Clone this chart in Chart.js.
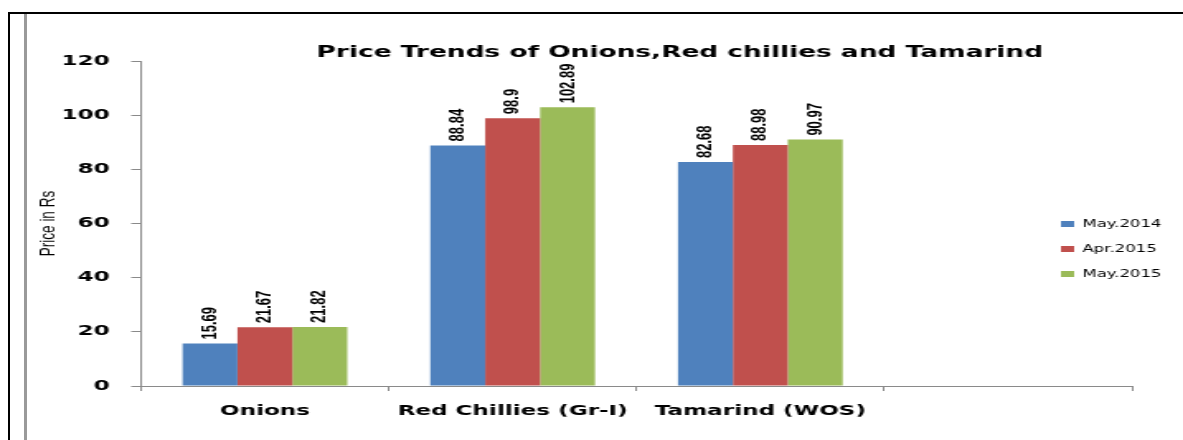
<!DOCTYPE html>
<html>
<head>
<meta charset="utf-8">
<script src="https://cdn.jsdelivr.net/npm/chart.js@4.4.0/dist/chart.umd.min.js"></script>
<style>
html,body{margin:0;padding:0;background:#fff;overflow:hidden;width:1183px;height:440px;}
#frameTop{position:absolute;left:8px;top:12px;width:1175px;height:2px;background:#000;}
#frameLeft{position:absolute;left:8px;top:12px;width:2px;height:428px;background:#000;}
#frameGray{position:absolute;left:24px;top:14px;width:3px;height:426px;background:#9a9a9a;}
#wrap{position:absolute;left:0;top:0;width:717px;height:440px;transform:scaleX(1.65);transform-origin:0 0;}
</style>
</head>
<body>
<div id="frameTop"></div>
<div id="frameLeft"></div>
<div id="frameGray"></div>
<div id="wrap"><canvas id="c" width="717" height="440"></canvas></div>
<script>
// ---- data ----
const categories = ['Onions', 'Red Chillies (Gr-I)', 'Tamarind (WOS)', ''];
const seriesNames = ['May.2014', 'Apr.2015', 'May.2015'];
const may2014 = [15.69, 88.84, 82.68, null];
const apr2015 = [21.67, 98.9, 88.98, null];
const may2015 = [21.82, 102.89, 90.97, null];
const seriesColors = ['#4F81BD', '#C0504D', '#9BBB59'];
const yMin = 0, yMax = 120, yStep = 20;
const chartTitle = 'Price Trends of Onions,Red chillies and Tamarind';
const yTitle = 'Price in Rs';

const axisGray = '#8a8a8a';

const valueLabels = {
  id: 'valueLabels',
  afterDatasetsDraw(chart) {
    const ctx = chart.ctx;
    ctx.save();
    ctx.font = 'bold 13px "Liberation Sans", Arial, sans-serif';
    ctx.fillStyle = '#000';
    ctx.textAlign = 'left';
    ctx.textBaseline = 'middle';
    chart.data.datasets.forEach((ds, i) => {
      const meta = chart.getDatasetMeta(i);
      meta.data.forEach((bar, j) => {
        const v = ds.data[j];
        if (v === null || v === undefined) return;
        ctx.save();
        ctx.translate(bar.x, bar.y - 4);
        ctx.rotate(-Math.PI / 2);
        ctx.fillText(String(v), 0, 0);
        ctx.restore();
      });
    });
    ctx.restore();
  }
};

const placeBoxes = {
  id: 'placeBoxes',
  afterLayout(chart) {
    const lg = chart.legend;
    if (lg) {
      lg.left = 628; lg.right = 717; lg.width = 89;
      lg.top = 204; lg.bottom = 330; lg.height = 126;
    }
    const t = chart.titleBlock;
    if (t) {
      const dx = 412 - (t.left + t.right) / 2;
      t.left += dx; t.right += dx;
    }
  }
};

new Chart(document.getElementById('c'), {
  type: 'bar',
  data: {
    labels: categories,
    datasets: [
      { label: seriesNames[0], data: may2014, backgroundColor: seriesColors[0] },
      { label: seriesNames[1], data: apr2015, backgroundColor: seriesColors[1] },
      { label: seriesNames[2], data: may2015, backgroundColor: seriesColors[2] }
    ]
  },
  options: {
    responsive: false,
    animation: false,
    events: [],
    devicePixelRatio: 1,
    layout: { padding: { left: 0, right: 31, top: 0, bottom: 0 } },
    datasets: { bar: { categoryPercentage: 0.665, barPercentage: 1.0, borderWidth: 0 } },
    plugins: {
      tooltip: { enabled: false },
      title: {
        display: true,
        text: chartTitle,
        color: '#000',
        font: { family: 'DejaVu Sans', weight: 'bold', size: 16, lineHeight: 1 },
        padding: { top: 45, bottom: 0 }
      },
      legend: {
        position: 'chartArea',
        align: 'start',
        labels: {
          boxWidth: 8, boxHeight: 6, padding: 15, color: '#000',
          font: { family: 'DejaVu Sans', size: 10 }
        }
      }
    },
    scales: {
      x: {
        grid: { display: true, drawOnChartArea: false, drawTicks: true, tickLength: 5, color: axisGray, offset: true },
        border: { display: true, color: axisGray, width: 1 },
        ticks: {
          color: '#000', padding: 12, maxRotation: 0, autoSkip: false,
          font: { family: 'DejaVu Sans', weight: 'bold', size: 14 }
        },
        afterFit(s) { s.height = 54; }
      },
      y: {
        min: yMin, max: yMax,
        grid: { display: true, drawOnChartArea: false, drawTicks: true, tickLength: 6, color: axisGray },
        border: { display: true, color: axisGray, width: 1 },
        ticks: {
          stepSize: yStep, color: '#000', padding: 13,
          font: { family: 'DejaVu Sans', weight: 'bold', size: 14 }
        },
        title: {
          display: true, text: yTitle, color: '#000',
          font: { family: 'Liberation Sans', size: 13.5 },
          padding: { top: 21.5, bottom: 0 }
        },
        afterFit(s) { s.width = 85.5; }
      }
    }
  },
  plugins: [valueLabels, placeBoxes]
});
</script>
</body>
</html>
